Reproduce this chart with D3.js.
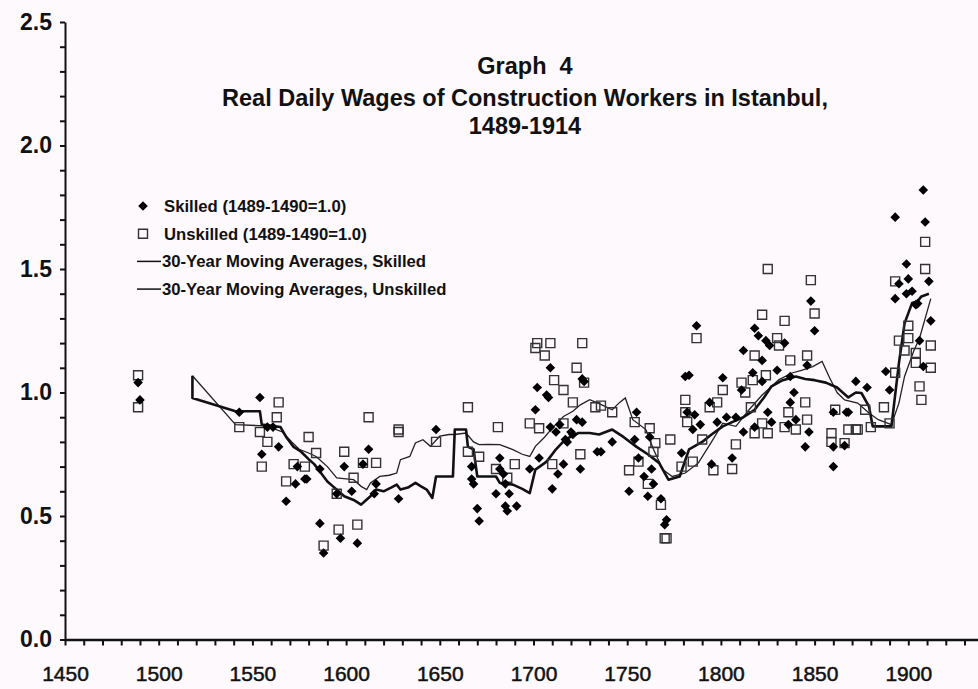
<!DOCTYPE html>
<html lang="en">
<head>
  <meta charset="UTF-8">
  <title>Graph 4 - Real Daily Wages of Construction Workers in Istanbul</title>
  <style>
    body { margin: 0; padding: 0; background: #fdf9fd; overflow: hidden; }
    svg { display: block; font-family: 'Liberation Sans', Arial, sans-serif; }
    .title { font-weight: bold; font-size: 23.5px; text-anchor: middle; fill: #111; }
    .legend text { font-weight: bold; font-size: 16.7px; fill: #111; }
    .y-axis text { font-weight: bold; font-size: 23px; fill: #111; }
    .x-axis text { font-size: 21px; fill: #111; stroke: #111; stroke-width: 0.5px; }
    .axis path, .axis line { stroke: #111; }
  </style>
</head>
<body>
  <svg id="chart" width="978" height="689"></svg>

  <script src="https://cdn.jsdelivr.net/npm/d3@7/dist/d3.min.js"></script>
  <script>
    // values: [year, index 1489-1490 = 1.0]
    const skilled = [
      [1489,1.04],[1490,0.97],[1543,0.92],[1554,0.98],[1558,0.86],[1561,0.86],[1564,0.78],[1555,0.75],
      [1574,0.70],[1573,0.63],[1579,0.65],[1586,0.69],[1568,0.56],[1586,0.47],[1588,0.35],
      [1612,0.77],[1609,0.71],[1599,0.70],[1578,0.65],[1616,0.63],[1595,0.59],[1603,0.60],[1615,0.59],
      [1628,0.57],[1597,0.41],[1606,0.39],[1648,0.85],
      [1667,0.70],[1667,0.65],[1668,0.63],[1670,0.53],[1671,0.48],[1682,0.735],[1682,0.69],[1684,0.67],
      [1685,0.63],[1680,0.59],[1687,0.59],[1685,0.54],[1691,0.54],[1686,0.52],[1698,0.69],[1703,0.735],
      [1709,1.10],[1726,1.055],[1702,1.02],[1707,0.99],[1708,0.98],[1701,0.93],[1710,0.61],[1713,0.67],
      [1716,0.71],[1725,0.69],[1717,0.81],[1720,0.84],[1723,0.89],[1726,0.88],[1734,0.76],[1709,0.86],
      [1712,0.84],[1714,0.87],[1718,0.80],[1721,0.83],[1727,1.045],
      [1736,0.76],[1742,0.80],[1754,0.81],[1755,0.92],[1756,0.735],[1762,0.82],[1763,0.69],[1751,0.60],
      [1761,0.58],[1764,0.63],[1759,0.66],[1768,0.57],[1771,0.485],[1770,0.465],[1779,0.755],[1785,0.85],
      [1781,1.065],[1783,1.07],[1787,1.27],[1782,0.92],[1786,0.91],[1789,0.87],[1794,0.96],[1795,0.71],
      [1798,0.88],[1801,1.06],[1803,0.90],[1806,0.735],[1808,0.90],[1811,1.01],[1812,1.17],[1812,0.84],
      [1817,1.08],[1818,1.26],[1818,0.86],[1820,1.23],[1822,1.13],[1822,1.045],[1824,1.21],[1825,0.92],
      [1826,1.19],[1827,0.88],[1830,1.09],[1834,1.20],[1836,0.87],[1837,1.065],[1837,0.96],[1839,1.00],
      [1840,0.89],[1845,0.78],[1846,1.11],[1847,0.84],[1848,1.37],[1850,1.25],
      [1860,0.92],[1867,0.92],[1860,0.78],[1866,0.785],[1860,0.70],[1868,0.92],[1872,1.045],[1878,1.02],
      [1888,1.085],[1890,1.01],[1893,1.71],[1893,1.38],[1895,1.44],[1899,1.52],[1899,1.40],[1900,1.46],
      [1902,1.41],[1904,1.355],[1905,1.36],[1906,1.21],[1908,1.82],[1908,1.105],[1909,1.69],[1911,1.45],
      [1912,1.29]
    ];

    const unskilled = [
      [1489,1.07],[1489,0.94],[1543,0.86],[1564,0.96],[1563,0.90],[1554,0.84],[1558,0.80],[1555,0.70],
      [1580,0.82],[1584,0.755],[1572,0.71],[1578,0.70],[1568,0.64],[1588,0.38],
      [1612,0.90],[1628,0.85],[1628,0.84],[1599,0.76],[1648,0.80],[1609,0.715],[1616,0.715],[1604,0.655],
      [1595,0.59],[1596,0.445],[1606,0.465],[1665,0.94],[1665,0.76],[1671,0.74],[1680,0.69],[1681,0.86],
      [1686,0.655],[1690,0.71],[1698,0.875],[1702,1.20],[1701,1.18],[1709,1.20],[1706,1.15],[1711,1.05],
      [1716,1.01],[1723,1.10],[1726,1.20],[1727,1.04],[1703,0.855],[1710,0.71],[1716,0.875],[1721,0.96],
      [1725,0.75],[1733,0.94],[1736,0.947],[1742,0.92],
      [1751,0.685],[1754,0.88],[1756,0.72],[1761,0.63],[1762,0.855],[1764,0.76],[1765,0.795],[1768,0.545],
      [1770,0.41],[1771,0.41],[1773,0.81],[1779,0.70],[1781,0.97],[1781,0.92],[1782,0.88],[1785,0.72],
      [1787,1.22],[1790,0.81],[1794,0.94],[1796,0.685],[1798,0.96],[1801,1.01],[1806,0.69],[1808,0.79],
      [1811,1.04],[1813,1.00],[1816,0.94],[1817,1.05],[1818,1.15],[1818,0.835],[1822,1.315],[1822,0.875],
      [1824,1.07],[1825,1.50],[1825,0.835],[1830,1.22],[1831,1.19],[1834,1.29],[1834,0.86],[1836,0.92],
      [1837,1.13],[1840,0.85],[1845,0.96],[1846,1.15],[1846,0.89],[1848,1.455],[1850,1.32],
      [1859,0.835],[1859,0.80],[1861,0.93],[1866,0.795],[1868,0.85],[1872,0.85],[1873,0.85],[1877,0.93],
      [1880,0.86],[1887,0.94],[1890,0.875],[1893,1.45],[1893,1.08],[1895,1.21],[1898,1.17],[1900,1.27],
      [1900,1.22],[1904,1.16],[1904,1.12],[1906,1.025],[1907,0.97],[1909,1.61],[1909,1.50],[1912,1.19],
      [1912,1.10]
    ];

    const skilledMA = [
      [1518,1.068],[1518,0.978],[1541,0.924],[1554,0.924],[1555,0.87],[1560,0.865],[1565,0.86],[1568,0.82],
      [1572,0.78],[1576,0.76],[1580,0.73],[1583,0.71],[1586,0.68],[1590,0.64],[1593,0.62],[1596,0.60],
      [1599,0.58],[1604,0.565],[1608,0.546],[1610,0.56],[1613,0.58],[1616,0.607],[1620,0.60],[1624,0.615],
      [1627,0.627],[1629,0.607],[1633,0.615],[1637,0.634],[1640,0.62],[1643,0.607],[1646,0.573],[1648,0.66],
      [1657,0.66],[1658,0.85],[1664,0.85],[1665,0.78],[1668,0.77],[1670,0.66],[1680,0.66],[1682,0.634],
      [1689,0.627],[1694,0.61],[1698,0.593],[1701,0.688],[1707,0.72],[1712,0.77],[1717,0.81],[1724,0.836],
      [1730,0.836],[1735,0.83],[1742,0.85],[1748,0.82],[1755,0.78],[1761,0.75],[1767,0.715],[1772,0.647],
      [1778,0.66],[1783,0.77],[1790,0.80],[1795,0.83],[1801,0.863],[1806,0.88],[1812,0.90],[1818,0.93],
      [1823,0.98],[1827,1.025],[1833,1.05],[1840,1.065],[1845,1.055],[1850,1.05],[1856,1.04],[1862,1.02],
      [1868,0.98],[1872,1.00],[1875,0.998],[1879,0.944],[1881,0.863],[1891,0.863],[1895,1.119],[1898,1.28],
      [1902,1.362],[1905,1.37],[1907,1.389],[1911,1.40]
    ];

    const unskilledMA = [
      [1518,1.068],[1541,0.87],[1556,0.865],[1561,0.855],[1566,0.84],[1571,0.80],[1575,0.77],[1580,0.755],
      [1584,0.741],[1590,0.70],[1595,0.654],[1600,0.65],[1604,0.647],[1608,0.62],[1611,0.607],[1613,0.634],
      [1618,0.66],[1623,0.665],[1627,0.674],[1629,0.728],[1634,0.741],[1637,0.796],[1641,0.809],[1645,0.782],
      [1650,0.823],[1655,0.83],[1658,0.83],[1664,0.836],[1668,0.80],[1671,0.789],[1676,0.79],[1682,0.789],
      [1689,0.769],[1694,0.75],[1698,0.741],[1701,0.782],[1706,0.82],[1710,0.856],[1716,0.903],[1721,0.924],
      [1725,0.95],[1730,0.971],[1735,0.955],[1742,0.93],[1746,0.96],[1749,0.978],[1753,0.89],[1760,0.85],
      [1764,0.77],[1769,0.688],[1774,0.66],[1781,0.674],[1788,0.715],[1795,0.80],[1801,0.876],[1808,0.863],
      [1815,0.93],[1822,0.99],[1831,1.052],[1838,1.079],[1843,1.09],[1849,1.105],[1854,1.126],[1858,1.06],
      [1862,1.00],[1866,0.97],[1873,0.957],[1879,0.917],[1884,0.89],[1891,0.87],[1895,0.957],[1898,1.065],
      [1903,1.17],[1906,1.22],[1909,1.30],[1912,1.38]
    ];

    const yTicks = d3.range(0, 26).map(i => i / 10);
    const yTickLabels = ["0.0", "0.5", "1.0", "1.5", "2.0", "2.5"];
    const xTicks = d3.range(1450, 1951, 10);
    const xTickLabels = ["1450","1500","1550","1600","1650","1700","1750","1800","1850","1900"];
    const titleLines = ["Graph  4", "Real Daily Wages of Construction Workers in Istanbul,", "1489-1914"];
    const legendItems = [
      { label: "Skilled (1489-1490=1.0)", kind: "diamond" },
      { label: "Unskilled (1489-1490=1.0)", kind: "square" },
      { label: "30-Year Moving Averages, Skilled", kind: "line" },
      { label: "30-Year Moving Averages, Unskilled", kind: "line" }
    ];

    const svg = d3.select("#chart");

    // 1450..1950 spans past the right edge, the picture is cut there
    const x = d3.scaleLinear().domain([1450, 1950]).range([65, 1002]);
    const y = d3.scaleLinear().domain([0, 2.5]).range([639.5, 22]);

    // title
    svg.selectAll(".title")
      .data(titleLines)
      .enter().append("text")
      .attr("class", "title")
      .attr("x", 525)
      .attr("y", (d, i) => [74, 106, 134][i])
      .attr("xml:space", "preserve")
      .text(d => d);

    // axes
    const yAxis = d3.axisLeft(y)
      .tickValues(yTicks)
      .tickSize(5)
      .tickSizeOuter(0)
      .tickPadding(8)
      .tickFormat(d => {
        const lbl = d3.format(".1f")(d);
        return yTickLabels.includes(lbl) && Math.abs(d * 2 - Math.round(d * 2)) < 1e-9 ? lbl : "";
      });

    svg.append("g")
      .attr("class", "axis y-axis")
      .attr("transform", `translate(${x(1450)},0)`)
      .call(yAxis)
      .call(g => g.selectAll("path, line").attr("stroke-width", 2));

    const xAxis = d3.axisBottom(x)
      .tickValues(xTicks)
      .tickSize(6)
      .tickSizeOuter(0)
      .tickPadding(21)
      .tickFormat(d => xTickLabels.includes(String(d)) ? String(d) : "");

    svg.append("g")
      .attr("class", "axis x-axis")
      .attr("transform", `translate(0,${y(0)})`)
      .call(xAxis)
      .call(g => g.select("path").attr("stroke-width", 2.4))
      .call(g => g.selectAll("line").attr("stroke-width", 2));

    // moving averages
    const line = d3.line().x(d => x(d[0])).y(d => y(d[1]));

    svg.append("path")
      .datum(unskilledMA)
      .attr("fill", "none")
      .attr("stroke", "#222")
      .attr("stroke-width", 1.3)
      .attr("d", line);

    svg.append("path")
      .datum(skilledMA)
      .attr("fill", "none")
      .attr("stroke", "#111")
      .attr("stroke-width", 2.6)
      .attr("stroke-linejoin", "round")
      .attr("d", line);

    // markers
    const squareSym = d3.symbol().type(d3.symbolSquare).size(81);
    const diamondSym = d3.symbol().type(d3.symbolSquare).size(46);

    svg.append("g")
      .selectAll("path")
      .data(unskilled)
      .enter().append("path")
      .attr("d", squareSym)
      .attr("transform", d => `translate(${x(d[0])},${y(d[1])})`)
      .attr("fill", "none")
      .attr("stroke", "#333")
      .attr("stroke-width", 1.4);

    svg.append("g")
      .selectAll("path")
      .data(skilled)
      .enter().append("path")
      .attr("d", diamondSym)
      .attr("transform", d => `translate(${x(d[0])},${y(d[1])}) rotate(45)`)
      .attr("fill", "#000");

    // legend
    const legend = svg.append("g").attr("class", "legend");
    const rows = legend.selectAll("g")
      .data(legendItems)
      .enter().append("g")
      .attr("transform", (d, i) => `translate(0,${206 + i * 27.7})`);

    rows.filter(d => d.kind === "diamond").append("path")
      .attr("d", diamondSym)
      .attr("transform", "translate(143,0) rotate(45)")
      .attr("fill", "#000");

    rows.filter(d => d.kind === "square").append("path")
      .attr("d", squareSym)
      .attr("transform", "translate(143,0)")
      .attr("fill", "none")
      .attr("stroke", "#333")
      .attr("stroke-width", 1.4);

    rows.filter(d => d.kind === "line").append("line")
      .attr("x1", 137).attr("x2", 161)
      .attr("stroke", "#111")
      .attr("stroke-width", 1.5);

    rows.append("text")
      .attr("x", d => d.kind === "line" ? 162 : 164)
      .attr("dy", "0.36em")
      .text(d => d.label);
  </script>
</body>
</html>
